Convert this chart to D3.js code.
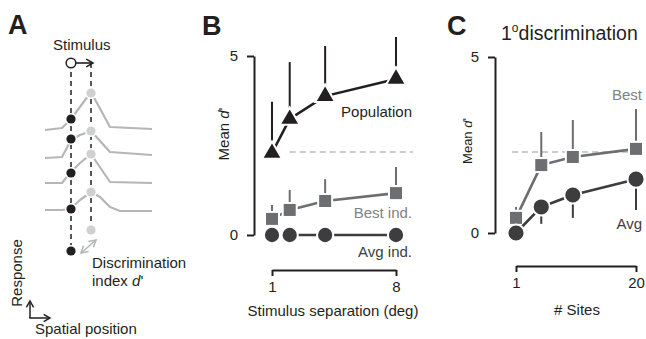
<!DOCTYPE html>
<html>
<head>
<meta charset="utf-8">
<script src="https://cdn.jsdelivr.net/npm/d3@7"></script>
<style>
    body { margin: 0; background: #fff; }
    svg text { font-family: "Liberation Sans", Arial, Helvetica, sans-serif; }
</style>
</head>
<body>
<div id="figure"></div>
<script>
// ---- panel B data: stimulus separation (deg) ----
var separations = [1, 2, 4, 8];
var population_d = [2.29, 3.24, 3.88, 4.36];
var population_err_top = [3.72, 4.83, 5.28, 5.53];
var best_ind_d = [0.45, 0.70, 0.95, 1.17];
var best_ind_err_top = [0.84, 1.26, 1.56, 1.90];
var avg_ind_d = [0, 0, 0, 0];
var criterion_b = 2.32;

// ---- panel C data: number of sites, 1 deg discrimination ----
var sites = [1, 5, 10, 20];
var best_sites_d = [0.43, 1.93, 2.16, 2.39];
var best_sites_err_top = [0.74, 2.87, 3.21, 3.52];
var avg_sites_d = [0, 0.74, 1.08, 1.53];
var avg_sites_err_bottom = [0, 0.26, 0.43, 0.65];
var criterion_c = 2.3;

var y_ticks = [0, 5];
var b_x_ticks = [1, 8];
var c_x_ticks = [1, 20];

// ---- panel A schematic: response curves (spatial position, response) ----
var schematic_curves = [
    [[0, 70], [17, 72], [26, 81], [46, 108], [65, 73], [107, 71]],
    [[0, 42], [17, 43], [26, 60], [35, 65], [46, 69], [65, 48], [107, 45]],
    [[0, 17], [17, 17], [25, 27], [35, 37], [46, 46], [65, 18], [107, 17]],
    [[0, -10], [17, -10], [25, -9], [35, 0], [46, 8], [55, 3], [65, -7], [75, -11], [107, -11]]
];
var stimulus_a_responses = [81, 61, 27, -9, -51];
var stimulus_b_responses = [107, 69, 46, 8, -30];

var black = "#231f20";
var dark_grey = "#3d3d3f";
var mid_grey = "#6d6e71";
var label_grey = "#808285";
var light_grey = "#b5b6b8";
var dash_grey = "#cbcccd";

var svg = d3.select("#figure").append("svg")
            .attr("width", 646)
            .attr("height", 339);

var defs = svg.append("defs");
function add_arrow_marker(id, colour)
{
    defs.append("marker")
        .attr("id", id)
        .attr("viewBox", "0 0 10 10")
        .attr("refX", 8)
        .attr("refY", 5)
        .attr("markerWidth", 6)
        .attr("markerHeight", 6)
        .attr("orient", "auto-start-reverse")
        .append("path")
        .attr("d", "M1,1L8,5L1,9")
        .attr("fill", "none")
        .attr("stroke", colour)
        .attr("stroke-width", 1.6);
}
add_arrow_marker("arrow-black", black);
add_arrow_marker("arrow-grey", light_grey);

function panel_letter(label, x, y)
{
    svg.append("text")
       .attr("x", x)
       .attr("y", y)
       .attr("font-size", 27)
       .attr("font-weight", "bold")
       .attr("fill", black)
       .text(label);
}

panel_letter("A", 8, 34);
panel_letter("B", 202, 35);
panel_letter("C", 447, 35);

// ================= Panel A =================
var xA = d3.scaleLinear().domain([0, 107]).range([45, 152]);
var yA = d3.scaleLinear().domain([0, 100]).range([200, 100]);
var pos_a = 26, pos_b = 46;

svg.append("text")
   .attr("x", 53).attr("y", 45).attr("dy", "0.35em")
   .attr("font-size", 15).attr("fill", black)
   .text("Stimulus");

svg.append("line")
   .attr("x1", xA(pos_a)).attr("x2", xA(pos_a))
   .attr("y1", 63).attr("y2", yA(stimulus_a_responses[4]))
   .attr("stroke", black).attr("stroke-width", 1.5)
   .attr("stroke-dasharray", "5,4");
svg.append("line")
   .attr("x1", xA(pos_b)).attr("x2", xA(pos_b))
   .attr("y1", 63).attr("y2", yA(stimulus_b_responses[4]))
   .attr("stroke", black).attr("stroke-width", 1.5)
   .attr("stroke-dasharray", "5,4");

var curve_line = d3.line().x(function (d) { return xA(d[0]); }).y(function (d) { return yA(d[1]); });
svg.selectAll(".schematic-curve").data(schematic_curves).enter().append("path")
   .attr("class", "schematic-curve")
   .attr("d", curve_line)
   .attr("fill", "none")
   .attr("stroke", light_grey)
   .attr("stroke-width", 2.2)
   .attr("stroke-linejoin", "round");

svg.selectAll(".dot-b").data(stimulus_b_responses).enter().append("circle")
   .attr("cx", xA(pos_b)).attr("cy", function (d) { return yA(d); })
   .attr("r", 4.6).attr("fill", "#cfd0d2")
   .attr("stroke", "#fff").attr("stroke-width", 3).attr("paint-order", "stroke");
svg.selectAll(".dot-a").data(stimulus_a_responses).enter().append("circle")
   .attr("cx", xA(pos_a)).attr("cy", function (d) { return yA(d); })
   .attr("r", 4.6).attr("fill", black)
   .attr("stroke", "#fff").attr("stroke-width", 3).attr("paint-order", "stroke");

// stimulus marker and arrow
svg.append("line")
   .attr("x1", xA(pos_a) + 5).attr("x2", xA(pos_b) + 2)
   .attr("y1", 63).attr("y2", 63)
   .attr("stroke", black).attr("stroke-width", 1.6)
   .attr("marker-end", "url(#arrow-black)");
svg.append("circle")
   .attr("cx", xA(pos_a)).attr("cy", 63).attr("r", 4.8)
   .attr("fill", "#fff").attr("stroke", black).attr("stroke-width", 1.5);

// d' double arrow
svg.append("line")
   .attr("x1", xA(pos_a) + 10).attr("y1", yA(stimulus_a_responses[4]) + 2)
   .attr("x2", xA(pos_b) + 5).attr("y2", yA(stimulus_b_responses[4]) + 10)
   .attr("stroke", light_grey).attr("stroke-width", 1.6)
   .attr("marker-start", "url(#arrow-grey)")
   .attr("marker-end", "url(#arrow-grey)");

svg.append("text")
   .attr("x", 92).attr("y", 263).attr("dy", "0.35em")
   .attr("font-size", 15).attr("fill", black)
   .text("Discrimination");
var index_label = svg.append("text")
   .attr("x", 92).attr("y", 281).attr("dy", "0.35em")
   .attr("font-size", 15).attr("fill", black);
index_label.append("tspan").text("index ");
index_label.append("tspan").attr("font-style", "italic").text("d");
index_label.append("tspan").text("'");

svg.append("text")
   .attr("transform", "translate(22,273)rotate(-90)")
   .attr("text-anchor", "middle")
   .attr("font-size", 15).attr("fill", black)
   .text("Response");

svg.append("path")
   .attr("d", "M30,318V301")
   .attr("stroke", black).attr("stroke-width", 1.5).attr("fill", "none")
   .attr("marker-end", "url(#arrow-black)");
svg.append("path")
   .attr("d", "M29.25,318H50")
   .attr("stroke", black).attr("stroke-width", 1.5).attr("fill", "none")
   .attr("marker-end", "url(#arrow-black)");

svg.append("text")
   .attr("x", 35).attr("y", 329).attr("dy", "0.35em")
   .attr("font-size", 15).attr("fill", black)
   .text("Spatial position");

// ================= shared helpers for B and C =================
function draw_y_axis(x_scale_pos, y_scale, label_x, label_size, label_y)
{
    var g = svg.append("g")
               .attr("transform", "translate(" + x_scale_pos + ",0)")
               .call(d3.axisLeft(y_scale).tickValues(y_ticks).tickSize(7).tickSizeOuter(0).tickPadding(9)
                       .tickFormat(d3.format("d")));
    g.select(".domain").attr("stroke", black).attr("stroke-width", 2);
    g.selectAll(".tick line").attr("stroke", black).attr("stroke-width", 2);
    g.selectAll(".tick text").attr("font-size", 15).attr("fill", black)
     .attr("font-family", "Liberation Sans, Arial, sans-serif");

    var label = svg.append("text")
                   .attr("transform", "translate(" + label_x + "," + label_y + ")rotate(-90)")
                   .attr("text-anchor", "middle")
                   .attr("font-size", label_size).attr("fill", black);
    label.append("tspan").text("Mean ");
    label.append("tspan").attr("font-style", "italic").text("d");
    label.append("tspan").text("'");
}

function draw_x_bracket(x_scale, tick_values, y_pos, title, title_x, title_y)
{
    var g = svg.append("g")
               .attr("transform", "translate(0," + y_pos + ")")
               .call(d3.axisBottom(x_scale).tickValues(tick_values).tickSize(6).tickSizeOuter(0).tickPadding(5)
                       .tickFormat(d3.format("d")));
    g.select(".domain").attr("stroke", black).attr("stroke-width", 2);
    g.selectAll(".tick line").attr("stroke", black).attr("stroke-width", 2);
    g.selectAll(".tick text").attr("font-size", 15).attr("fill", black)
     .attr("font-family", "Liberation Sans, Arial, sans-serif");

    svg.append("text")
       .attr("x", title_x).attr("y", title_y).attr("dy", "0.35em")
       .attr("text-anchor", "middle")
       .attr("font-size", 15).attr("fill", black)
       .text(title);
}

function draw_dashed(x_scale, y_scale, value, x_from, x_to)
{
    svg.append("line")
       .attr("x1", x_from).attr("x2", x_to)
       .attr("y1", y_scale(value)).attr("y2", y_scale(value))
       .attr("stroke", dash_grey).attr("stroke-width", 2)
       .attr("stroke-dasharray", "6,4");
}

function draw_series(x_scale, y_scale, xs, values, err_ends, colour, shape, size)
{
    var points = xs.map(function (x, i) { return [x, values[i], err_ends ? err_ends[i] : values[i]]; });

    svg.append("g").selectAll("line").data(points).enter().append("line")
       .attr("x1", function (d) { return x_scale(d[0]); })
       .attr("x2", function (d) { return x_scale(d[0]); })
       .attr("y1", function (d) { return y_scale(d[1]); })
       .attr("y2", function (d) { return y_scale(d[2]); })
       .attr("stroke", colour).attr("stroke-width", 2);

    svg.append("path")
       .datum(points)
       .attr("d", d3.line().x(function (d) { return x_scale(d[0]); }).y(function (d) { return y_scale(d[1]); }))
       .attr("fill", "none")
       .attr("stroke", colour)
       .attr("stroke-width", 2.6);

    svg.append("g").selectAll("path").data(points).enter().append("path")
       .attr("transform", function (d) { return "translate(" + x_scale(d[0]) + "," + y_scale(d[1]) + ")"; })
       .attr("d", d3.symbol().type(shape).size(size))
       .attr("fill", colour)
       .attr("stroke", "#fff")
       .attr("stroke-width", 4)
       .attr("paint-order", "stroke");
}

function side_label(text, x, y, colour)
{
    svg.append("text")
       .attr("x", x).attr("y", y).attr("dy", "0.35em")
       .attr("text-anchor", "end")
       .attr("font-size", 15).attr("fill", colour)
       .text(text);
}

// ================= Panel B =================
var xB = d3.scaleLinear().domain([1, 8]).range([272, 396]);
var yB = d3.scaleLinear().domain([0, 5]).range([235, 56]);

draw_y_axis(254, yB, 229, 15, 134);
draw_x_bracket(xB, b_x_ticks, 270, "Stimulus separation (deg)", 333, 311);
draw_dashed(xB, yB, criterion_b, xB(2), xB(8) + 17);

draw_series(xB, yB, separations, avg_ind_d, null, dark_grey, d3.symbolCircle, 160);
draw_series(xB, yB, separations, best_ind_d, best_ind_err_top, mid_grey, d3.symbolSquare, 144);
draw_series(xB, yB, separations, population_d, population_err_top, black, d3.symbolTriangle, 120);

side_label("Population", 412, 112, black);
side_label("Best ind.", 412, 213, label_grey);
side_label("Avg ind.", 412, 252, dark_grey);

// ================= Panel C =================
var xC = d3.scaleLinear().domain([1, 20]).range([516, 636]);
var yC = d3.scaleLinear().domain([0, 5]).range([233, 57]);

draw_y_axis(495, yC, 472, 13, 141);
draw_x_bracket(xC, c_x_ticks, 266, "# Sites", 577, 310);
draw_dashed(xC, yC, criterion_c, xC(1) - 4, xC(20) + 4);

draw_series(xC, yC, sites, best_sites_d, best_sites_err_top, mid_grey, d3.symbolSquare, 144);
draw_series(xC, yC, sites, avg_sites_d, avg_sites_err_bottom, dark_grey, d3.symbolCircle, 180);

side_label("Best", 642, 95, label_grey);
side_label("Avg", 642, 224, dark_grey);

var title = svg.append("text")
               .attr("x", 501).attr("y", 40)
               .attr("font-size", 19.5).attr("fill", black);
title.append("tspan").text("1");
title.append("tspan").attr("font-size", 12).attr("dy", -8).text("o");
title.append("tspan").attr("dy", 8).text("discrimination");
</script>
</body>
</html>
